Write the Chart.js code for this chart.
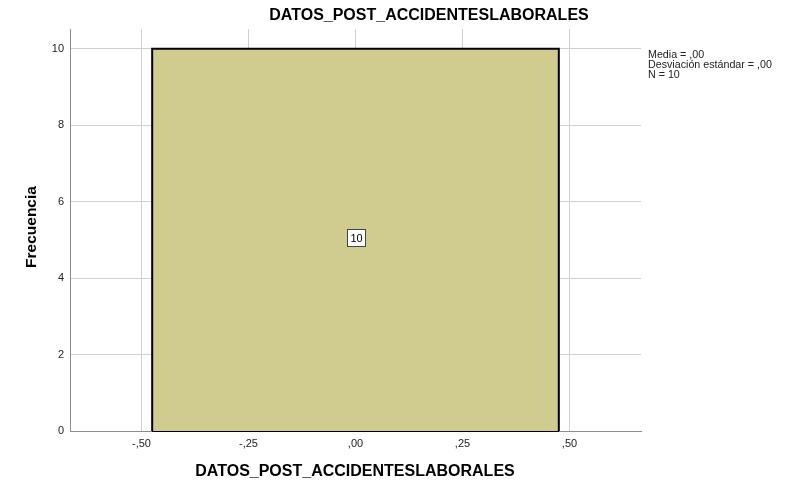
<!DOCTYPE html>
<html>
<head>
<meta charset="utf-8">
<script src="https://cdn.jsdelivr.net/npm/chart.js@4/dist/chart.umd.min.js"></script>
<style>
  body { margin: 0; background: #fff; }
</style>
</head>
<body>
<canvas id="myChart" width="796" height="485"></canvas>
<script>
// datos del histograma
var varName = 'DATOS_POST_ACCIDENTESLABORALES';
var binEdges = [-0.475, 0.475];
var binCounts = [10];
var xTicks = [-0.5, -0.25, 0, 0.25, 0.5];
var xTickLabels = ['-,50', '-,25', ',00', ',25', ',50'];
var yTicks = [0, 2, 4, 6, 8, 10];
var statsLines = ['Media = ,00', 'Desviación estándar = ,00', 'N = 10'];

// contorno de cada barra (escalones)
var outline = [];
for (var i = 0; i < binCounts.length; i++) {
    outline.push({x: binEdges[i], y: 0});
    outline.push({x: binEdges[i], y: binCounts[i]});
    outline.push({x: binEdges[i + 1], y: binCounts[i]});
    outline.push({x: binEdges[i + 1], y: 0});
}
// borde inferior de las barras
var baseLine = [{x: binEdges[0], y: 0}, {x: binEdges[binEdges.length - 1], y: 0}];

var FONT = 'Arial, "Liberation Sans", sans-serif';

// textos: titulo, ejes, estadisticos, etiqueta de frecuencia
var textPlugin = {
    id: 'textos',
    afterDatasetsDraw: function (chart) {
        var c = chart.ctx, xs = chart.scales.x, ys = chart.scales.y;
        c.save();
        // etiqueta de cada barra
        c.font = '11px ' + FONT;
        c.textAlign = 'center';
        c.textBaseline = 'middle';
        for (var i = 0; i < binCounts.length; i++) {
            var cx = Math.round(xs.getPixelForValue((binEdges[i] + binEdges[i + 1]) / 2));
            var cy = Math.round(ys.getPixelForValue(binCounts[i] / 2)) - 2;
            c.fillStyle = '#fff';
            c.fillRect(cx - 9, cy - 9, 19, 18);
            c.strokeStyle = '#444';
            c.lineWidth = 1;
            c.strokeRect(cx - 9 + 0.5, cy - 9 + 0.5, 18, 17);
            c.fillStyle = '#000';
            c.fillText(String(binCounts[i]), cx + 0.5, cy + 0.5);
        }
        // titulo
        c.font = 'bold 16px ' + FONT;
        c.fillStyle = '#000';
        c.fillText(varName, 429, 16);
        // titulo eje x
        c.fillText(varName, 355, 472);
        // titulo eje y
        c.save();
        c.translate(32, 227);
        c.rotate(-Math.PI / 2);
        c.font = 'bold 15.5px ' + FONT;
        c.fillText('Frecuencia', 0, 0);
        c.restore();
        // estadisticos
        c.font = '10.7px ' + FONT;
        c.textAlign = 'left';
        c.fillStyle = '#222';
        statsLines.forEach(function (t, k) {
            c.fillText(t, 648, 55 + k * 10);
        });
        c.restore();
    }
};

var ctx = document.getElementById('myChart');
var myChart = new Chart(ctx, {
    type: 'line',
    data: {
        datasets: [{
            data: outline,
            borderColor: '#000',
            borderWidth: 2,
            backgroundColor: '#d0cb8f',
            fill: 'origin',
            tension: 0,
            pointRadius: 0,
            pointHoverRadius: 0,
            clip: 3
        }, {
            data: baseLine,
            borderColor: '#000',
            borderWidth: 2,
            fill: false,
            pointRadius: 0,
            pointHoverRadius: 0,
            clip: 3
        }]
    },
    options: {
        responsive: false,
        animation: false,
        events: [],
        layout: { padding: { left: 0, right: 155, top: 29, bottom: 0 } },
        plugins: {
            legend: { display: false },
            tooltip: { enabled: false }
        },
        scales: {
            x: {
                type: 'linear',
                min: -0.667,
                max: 0.667,
                afterFit: function (s) { s.height = 54; },
                afterBuildTicks: function (s) {
                    s.ticks = xTicks.map(function (v) { return {value: v}; });
                },
                grid: { color: '#d0d0d0', lineWidth: 1, drawTicks: false },
                border: { color: '#8c8c8c', width: 1 },
                ticks: {
                    padding: 6,
                    color: '#222',
                    font: { family: FONT, size: 11 },
                    maxRotation: 0,
                    callback: function (v) {
                        var k = xTicks.indexOf(v);
                        return k >= 0 ? xTickLabels[k] : '';
                    }
                }
            },
            y: {
                min: 0,
                max: 10.52,
                afterFit: function (s) { s.width = 70; },
                afterBuildTicks: function (s) {
                    s.ticks = yTicks.map(function (v) { return {value: v}; });
                },
                grid: { color: '#d0d0d0', lineWidth: 1, drawTicks: false },
                border: { color: '#8c8c8c', width: 1 },
                ticks: {
                    padding: 6,
                    color: '#222',
                    font: { family: FONT, size: 11 }
                }
            }
        }
    },
    plugins: [textPlugin]
});
</script>
</body>
</html>
